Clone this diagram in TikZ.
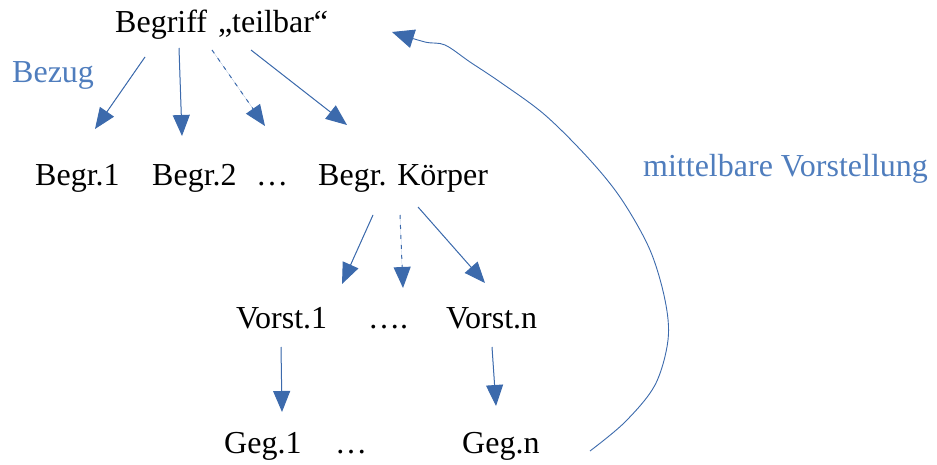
\documentclass[tikz,border=0pt]{standalone}
\usepackage{fontspec}
\setmainfont{Liberation Serif}
\usetikzlibrary{arrows.meta}
\definecolor{arrblue}{RGB}{60,106,172}
\definecolor{txtblue}{RGB}{79,125,189}
\tikzset{
  lbl/.style={anchor=base west,inner sep=0pt,font=\fontsize{32}{36}\selectfont},
  bluelbl/.style={lbl,text=txtblue},
  arr/.style={draw=arrblue,line width=1pt,-{Triangle[length=21pt,width=17pt]},fill=arrblue},
  darr/.style={arr,dash pattern=on 4pt off 6pt},
  curvearr/.style={draw=arrblue,line width=0.9pt,-{Triangle[length=22pt,width=19pt,fill=arrblue]}}
}
\begin{document}
\begin{tikzpicture}[x=1pt,y=-1pt]
\useasboundingbox (0,0) rectangle (937,465);
% nodes
\node[lbl] (top) at (115,33) {Begriff\hspace{3pt} „teilbar“};
\node[bluelbl] (bezug) at (12,83) {Bezug};
\node[lbl] (b1) at (35,186) {Begr.1};
\node[lbl] (b2) at (152,186) {Begr.2};
\node[lbl] (bdots) at (256,186) {…};
\node[lbl] (bk) at (318,186) {Begr. Körper};
\node[bluelbl] (mv) at (643,177) {mittelbare Vorstellung};
\node[lbl] (v1) at (236,328) {Vorst.1};
\node[lbl] (vdots) at (368,328) {….};
\node[lbl] (vn) at (446,328) {Vorst.n};
\node[lbl] (g1) at (224,453) {Geg.1};
\node[lbl] (gdots) at (335,453) {…};
\node[lbl] (gn) at (462,453) {Geg.n};
% connector ends
\coordinate (t1) at (145,57);  \coordinate (e1) at (95,129);
\coordinate (t2) at (179,48);  \coordinate (e2) at (182,136);
\coordinate (t3) at (212,50);  \coordinate (e3) at (265,126);
\coordinate (t4) at (251,50);  \coordinate (e4) at (347,125);
\coordinate (k1) at (373,215); \coordinate (f1) at (342,284);
\coordinate (k2) at (400,215); \coordinate (f2) at (403,288);
\coordinate (k3) at (418,207); \coordinate (f3) at (485,283);
\coordinate (w1) at (281,347); \coordinate (h1) at (282,412);
\coordinate (w2) at (492,347); \coordinate (h2) at (496,406);
\coordinate (cs) at (590,451);
\coordinate (ce) at (392,32);
% connectors
\draw[arr] (t1) -- (e1);
\draw[arr] (t2) -- (e2);
\draw[darr] (t3) -- (e3);
\draw[arr] (t4) -- (e4);
\draw[arr] (k1) -- (f1);
\draw[darr] (k2) -- (f2);
\draw[arr] (k3) -- (f3);
\draw[arr] (w1) -- (h1);
\draw[arr] (w2) -- (h2);
\draw[curvearr] plot[smooth,tension=0.55] coordinates {(cs) (625,422) (655,385) (668,340) (665,300) (650,250) (622,200) (590,160) (545,115) (500,82) (470,62) (445,45) (425,42) (ce)};
\end{tikzpicture}
\end{document}
